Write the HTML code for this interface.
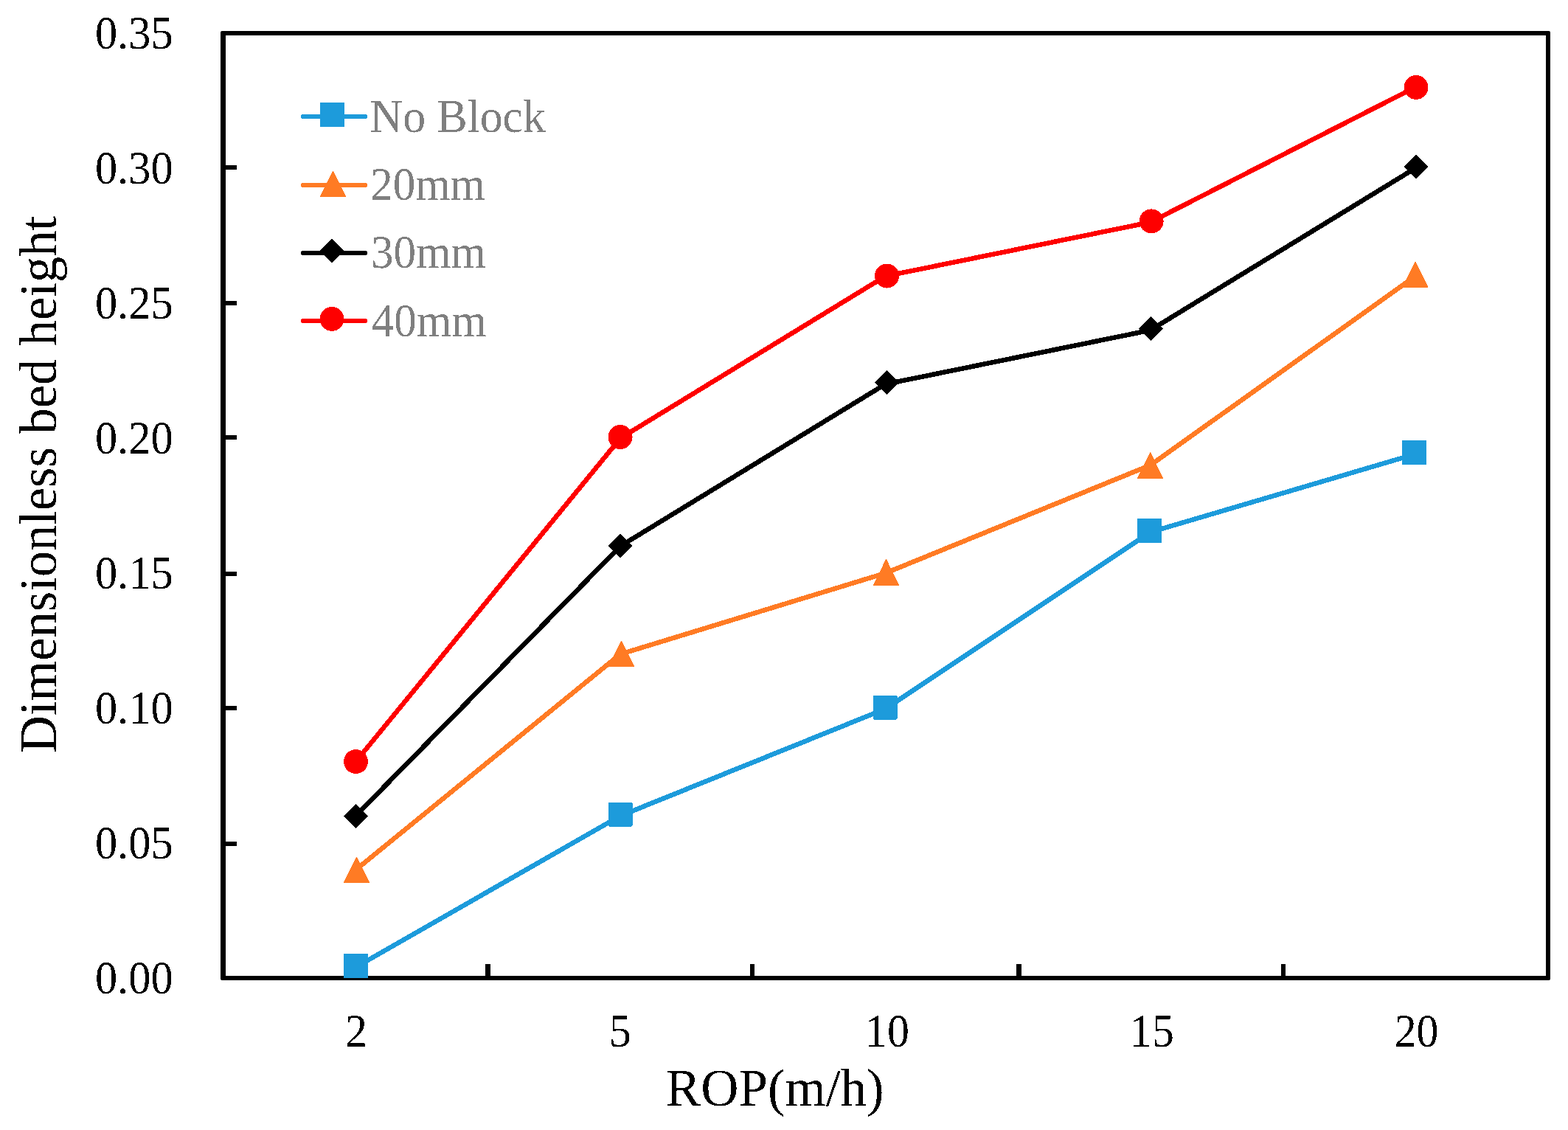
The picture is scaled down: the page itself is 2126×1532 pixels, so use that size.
<!DOCTYPE html>
<html lang="en">
<head>
<meta charset="utf-8">
<title>Dimensionless bed height vs ROP</title>
<style>
html,body{margin:0;padding:0;background:#fff;}
body{width:2126px;height:1532px;overflow:hidden;}
svg{display:block;}
text{font-family:"Liberation Serif",serif;}
.tick{font-size:61px;fill:#000;}
.title{font-size:71px;fill:#000;}
.leg{font-size:61px;fill:#7f7f7f;}
</style>
</head>
<body>
<svg width="2126" height="1532" viewBox="0 0 2126 1532">
<rect x="0" y="0" width="2126" height="1532" fill="#ffffff"/>
<defs>
<filter id="thr" x="-5%" y="-20%" width="110%" height="140%" color-interpolation-filters="sRGB">
<feComponentTransfer><feFuncA type="discrete" tableValues="0 1"/></feComponentTransfer>
</filter>
</defs>

<g fill="#000">
<path d="M301 42 H2100 Q2102 42 2102 44 V1327 Q2102 1329 2100 1329 H301 Q299 1329 299 1327 V44 Q299 42 301 42 Z M306 48 V1323 H2096 V48 Z" fill-rule="evenodd"/>
<rect x="305" y="1141" width="16" height="6"/>
<rect x="305" y="957" width="16" height="6"/>
<rect x="305" y="775" width="16" height="6"/>
<rect x="305" y="590" width="16" height="6"/>
<rect x="305" y="408" width="16" height="6"/>
<rect x="305" y="224" width="16" height="6"/>
<rect x="658" y="1307" width="7" height="17"/>
<rect x="1017" y="1307" width="6" height="17"/>
<rect x="1378" y="1307" width="7" height="17"/>
<rect x="1737" y="1307" width="6" height="17"/>
</g>
<g>
<text class="tick" text-anchor="end" transform="translate(234.6 1347.0) scale(0.99 1.034)" filter="url(#thr)">0.00</text>
<text class="tick" text-anchor="end" transform="translate(234.6 1164.0) scale(0.99 1.034)" filter="url(#thr)">0.05</text>
<text class="tick" text-anchor="end" transform="translate(234.6 981.0) scale(0.99 1.034)" filter="url(#thr)">0.10</text>
<text class="tick" text-anchor="end" transform="translate(234.6 798.0) scale(0.99 1.034)" filter="url(#thr)">0.15</text>
<text class="tick" text-anchor="end" transform="translate(234.6 615.0) scale(0.99 1.034)" filter="url(#thr)">0.20</text>
<text class="tick" text-anchor="end" transform="translate(234.6 432.0) scale(0.99 1.034)" filter="url(#thr)">0.25</text>
<text class="tick" text-anchor="end" transform="translate(234.6 249.0) scale(0.99 1.034)" filter="url(#thr)">0.30</text>
<text class="tick" text-anchor="end" transform="translate(234.6 66.0) scale(0.99 1.034)" filter="url(#thr)">0.35</text>
</g>
<g>
<text class="tick" text-anchor="middle" transform="translate(482.9 1419) scale(0.982 1.034)" filter="url(#thr)">2</text>
<text class="tick" text-anchor="middle" transform="translate(840.8 1419) scale(0.982 1.034)" filter="url(#thr)">5</text>
<text class="tick" text-anchor="middle" transform="translate(1203.0 1419) scale(0.982 1.034)" filter="url(#thr)">10</text>
<text class="tick" text-anchor="middle" transform="translate(1561.9 1419) scale(0.982 1.034)" filter="url(#thr)">15</text>
<text class="tick" text-anchor="middle" transform="translate(1920.6 1419) scale(0.982 1.034)" filter="url(#thr)">20</text>
</g>
<text class="title" text-anchor="middle" transform="translate(1050.7 1499) scale(1.0 1.02)" filter="url(#thr)">ROP(m/h)</text>
<text class="title" text-anchor="middle" transform="translate(76 657.0) rotate(-90) scale(0.9925 1.012)" filter="url(#thr)">Dimensionless bed height</text>
<g shape-rendering="crispEdges">
<polyline points="481.8,1311.6 841.1,1106.1 1200.3,961.1 1559.7,721.5 1918.9,615.6" fill="none" stroke="#1d9bdb" stroke-width="6.5" stroke-linejoin="round" stroke-linecap="round"/>
<polyline points="481.8,1179.7 841.1,886.9 1200.3,777.1 1559.7,630.7 1918.9,374.5" fill="none" stroke="#ff7b24" stroke-width="6.5" stroke-linejoin="round" stroke-linecap="round"/>
<polyline points="481.8,1106.5 841.1,740.5 1200.3,520.9 1559.7,447.7 1918.9,228.1" fill="none" stroke="#000000" stroke-width="6.5" stroke-linejoin="round" stroke-linecap="round"/>
<polyline points="481.8,1033.3 841.1,594.1 1200.3,374.5 1559.7,301.3 1918.9,118.3" fill="none" stroke="#fe0000" stroke-width="6.5" stroke-linejoin="round" stroke-linecap="round"/>
<rect x="466.0" y="1293.0" width="33.0" height="33.0" rx="1.5" fill="#1d9bdb"/>
<rect x="824.5" y="1087.5" width="33.0" height="33.0" rx="1.5" fill="#1d9bdb"/>
<rect x="1183.5" y="942.5" width="33.0" height="33.0" rx="1.5" fill="#1d9bdb"/>
<rect x="1542.0" y="702.9" width="33.0" height="33.0" rx="1.5" fill="#1d9bdb"/>
<rect x="1901.0" y="597.0" width="33.0" height="33.0" rx="1.5" fill="#1d9bdb"/>
<path d="M483.4 1162.4 L500.4 1196.3 L466.4 1196.3 Z" fill="#ff7b24" stroke="#ff7b24" stroke-width="1" stroke-linejoin="round"/>
<path d="M842.5 869.5 L859.5 903.4 L825.5 903.4 Z" fill="#ff7b24" stroke="#ff7b24" stroke-width="1" stroke-linejoin="round"/>
<path d="M1201.5 758.4 L1218.5 793.4 L1184.5 793.4 Z" fill="#ff7b24" stroke="#ff7b24" stroke-width="1" stroke-linejoin="round"/>
<path d="M1559.6 613.5 L1576.6 648.3 L1542.6 648.3 Z" fill="#ff7b24" stroke="#ff7b24" stroke-width="1" stroke-linejoin="round"/>
<path d="M1919.0 355.4 L1936.0 389.3 L1902.0 389.3 Z" fill="#ff7b24" stroke="#ff7b24" stroke-width="1" stroke-linejoin="round"/>
<path d="M482.5 1090.0 L499.0 1106.5 L482.5 1123.0 L466.0 1106.5 Z" fill="#000000"/>
<path d="M841.1 723.9 L857.6 740.4 L841.1 756.9 L824.6 740.4 Z" fill="#000000"/>
<path d="M1202.5 501.9 L1219.0 518.4 L1202.5 534.9 L1186.0 518.4 Z" fill="#000000"/>
<path d="M1560.8 429.0 L1577.3 445.5 L1560.8 462.0 L1544.3 445.5 Z" fill="#000000"/>
<path d="M1920.0 209.9 L1936.5 226.4 L1920.0 242.9 L1903.5 226.4 Z" fill="#000000"/>
<circle cx="482.5" cy="1032.5" r="16.5" fill="#fe0000"/>
<circle cx="841.1" cy="592.5" r="16.5" fill="#fe0000"/>
<circle cx="1202.5" cy="374.0" r="16.5" fill="#fe0000"/>
<circle cx="1561.1" cy="299.9" r="16.5" fill="#fe0000"/>
<circle cx="1920.0" cy="118.4" r="16.5" fill="#fe0000"/>
</g>
<g shape-rendering="crispEdges">
<line x1="411" y1="158" x2="495" y2="158" stroke="#1d9bdb" stroke-width="6" stroke-linecap="round"/>
<line x1="411" y1="251" x2="495" y2="251" stroke="#ff7b24" stroke-width="6" stroke-linecap="round"/>
<line x1="411" y1="343" x2="495" y2="343" stroke="#000000" stroke-width="6" stroke-linecap="round"/>
<line x1="411" y1="435" x2="495" y2="435" stroke="#fe0000" stroke-width="6" stroke-linecap="round"/>
<rect x="434.0" y="139.0" width="33.0" height="33.0" rx="1.5" fill="#1d9bdb"/>
<path d="M451.5 232.3 L468.5 266.4 L434.5 266.4 Z" fill="#ff7b24" stroke="#ff7b24" stroke-width="1" stroke-linejoin="round"/>
<path d="M450.0 323.9 L466.5 340.4 L450.0 356.9 L433.5 340.4 Z" fill="#000000"/>
<circle cx="450.0" cy="432.4" r="16.5" fill="#fe0000"/>
</g>
<g>
<text class="leg" text-anchor="start" transform="translate(501.6 178.9) scale(1.012 1.03)" filter="url(#thr)">No Block</text>
<text class="leg" text-anchor="start" transform="translate(502.2 271.0) scale(1.0 1.03)" filter="url(#thr)">20mm</text>
<text class="leg" text-anchor="start" transform="translate(503.0 363.4) scale(1.0 1.03)" filter="url(#thr)">30mm</text>
<text class="leg" text-anchor="start" transform="translate(503.8 455.9) scale(1.0 1.03)" filter="url(#thr)">40mm</text>
</g>
</svg>
</body>
</html>
